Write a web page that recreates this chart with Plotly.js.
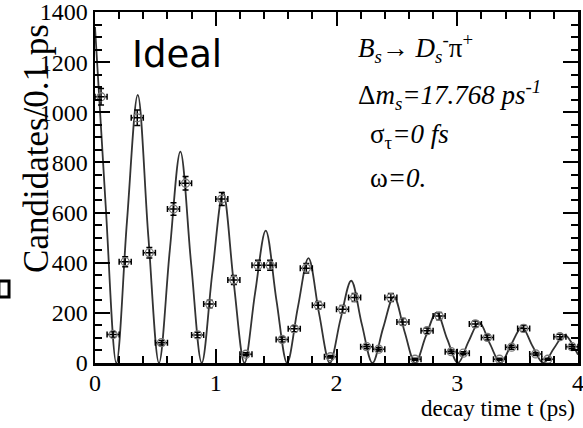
<!DOCTYPE html>
<html>
<head>
<meta charset="utf-8">
<script src="https://cdn.plot.ly/plotly-3.0.1.min.js"></script>
<style>html,body{margin:0;padding:0;background:#fff;}#wrap{position:relative;width:583px;height:428px;}#chart{width:583px;height:428px;}.ov{position:absolute;white-space:nowrap;color:#000;line-height:1;}</style>
</head>
<body>
<div id="wrap"><div id="chart"></div></div>
<script>
// Binned data (bin centres in ps, candidates per 0.1 ps)
const binT = [0.05,0.15,0.25,0.35,0.45,0.55,0.65,0.75,0.85,0.95,
              1.05,1.15,1.25,1.35,1.45,1.55,1.65,1.75,1.85,1.95,
              2.05,2.15,2.25,2.35,2.45,2.55,2.65,2.75,2.85,2.95,
              3.05,3.15,3.25,3.35,3.45,3.55,3.65,3.75,3.85,3.95];
const binN = [1062,114,404,978,440,81,614,717,112,235,
              654,331,35,390,390,94,137,378,230,25,
              214,261,65,55,261,164,15,129,187,45,
              39,156,102,15,63,138,36,15,105,65];
const binErr = [33,11,20,31,21,9,25,27,11,15,
                26,18,6,20,20,10,12,19,15,5,
                15,16,8,7,16,13,4,11,14,7,
                6,12,10,4,8,12,6,4,10,8];

// Fitted curve at peaks, half-heights and zeros
const curveT = [0,0.088,0.177,0.265,0.354,0.442,0.530,0.619,0.707,0.796,
                0.884,0.972,1.061,1.149,1.238,1.326,1.414,1.503,1.591,1.680,
                1.768,1.856,1.945,2.033,2.122,2.210,2.298,2.387,2.475,2.564,
                2.652,2.740,2.829,2.917,3.006,3.094,3.182,3.271,3.359,3.448,
                3.536,3.624,3.713,3.801,3.890,3.978,4.0];
const curveN = [1340,631,0,567,1069,503,0,447,843,397,
                0,361,680,320,0,280,528,249,0,222,
                418,197,0,174,328,154,0,141,265,125,
                0,107,201,95,0,86,162,76,0,75,
                142,67,0,59,112,53,33];

// Axis ticks: x labels 0..4 step 1, y labels 0..1400 step 200
const xTickStep = 1, xMinorStep = 0.2;
const yTickStep = 200, yMinorStep = 50;

const serif = 'Liberation Serif';
const CONFIG = {staticPlot: true};
const gd = document.getElementById('chart');

const labelDefs = [
  {text: 'Ideal', x: 0.072, y: 0.88, xanchor: 'left', family: 'DejaVu Sans', size: 37, angle: 0},
  {text: '<i>B<sub>s</sub></i>\u2192 <i>D<sub>s</sub></i><sup>-</sup>\u03c0<sup>+</sup>', x: 0.54, y: 0.897, xanchor: 'left', family: serif, size: 27, angle: 0},
  {text: '\u0394<i>m<sub>s</sub>=17.768 ps<sup>-1</sup></i>', x: 0.54, y: 0.7635, xanchor: 'left', family: serif, size: 27, angle: 0},
  {text: '\u03c3<sub>\u03c4</sub><i>=0 fs</i>', x: 0.566, y: 0.648, xanchor: 'left', family: serif, size: 27, angle: 0},
  {text: '\u03c9<i>=0.</i>', x: 0.566, y: 0.527, xanchor: 'left', family: serif, size: 27, angle: 0},
  {text: 'decay time t (ps)', x: 0.998, y: -0.131, xanchor: 'right', family: serif, size: 23, angle: 0},
  {text: 'Candidates/0.1 ps', x: -0.12, y: 0.61, xanchor: 'center', family: serif, size: 35, angle: -90}
];

function buildData() {
  return [
    {x: curveT, y: curveN, type: 'scatter', mode: 'lines',
     line: {color: '#333', width: 1.8, shape: 'spline', smoothing: 1}},
    {x: binT, y: binN, type: 'scatter', mode: 'markers',
     marker: {symbol: 'circle-open', size: 8, color: '#777', line: {width: 1.3}},
     error_x: {type: 'constant', value: 0.05, color: '#000', thickness: 1.5, width: 3},
     error_y: {type: 'data', array: binErr, color: '#000', thickness: 1.5, width: 3}}
  ];
}

function buildLayout(opts) {
  const L = {
    width: 583, height: 428,
    margin: {l: 95, r: 5, t: 12, b: 65, autoexpand: false},
    paper_bgcolor: '#fff', plot_bgcolor: '#fff',
    font: {family: serif, size: 24, color: '#000'},
    showlegend: false,
    xaxis: {range: [0, 4], tickmode: 'linear', tick0: 0, dtick: xTickStep,
            showline: true, linecolor: '#000', linewidth: 2.5, mirror: 'ticks',
            ticks: 'inside', tickcolor: '#000', tickwidth: 2, ticklen: 14,
            showgrid: false, zeroline: false, automargin: false,
            ticklabeloverflow: 'allow', ticklabelstandoff: -3,
            tickfont: {family: serif, size: 24, color: '#000'}},
    yaxis: {range: [0, 1400], tickmode: 'linear', tick0: 0, dtick: yTickStep,
            showline: true, linecolor: '#000', linewidth: 2.5, mirror: 'ticks',
            ticks: 'inside', tickcolor: '#000', tickwidth: 2, ticklen: 15,
            showgrid: false, zeroline: false, automargin: false,
            ticklabeloverflow: 'allow',
            tickfont: {family: serif, size: 24, color: '#000'}}
  };
  if (opts.minor) {
    L.xaxis.minor = {dtick: xMinorStep, tick0: 0, ticklen: 7, ticks: 'inside', tickcolor: '#000', tickwidth: 2, showgrid: false};
    L.yaxis.minor = {dtick: yMinorStep, tick0: 0, ticklen: 7, ticks: 'inside', tickcolor: '#000', tickwidth: 2, showgrid: false};
  }
  if (opts.annotations) {
    L.annotations = labelDefs.map(function (d) {
      return {text: d.text, xref: 'paper', yref: 'paper', x: d.x, y: d.y, xanchor: d.xanchor, yanchor: 'middle',
              textangle: d.angle, showarrow: false, font: {family: d.family, size: d.size, color: '#000'}};
    });
  }
  if (opts.shapes) {
    L.shapes = [{type: 'rect', xref: 'paper', yref: 'paper', x0: -0.199, x1: -0.178, y0: 0.188, y1: 0.2336,
                 line: {color: '#000', width: 3}, fillcolor: 'rgba(0,0,0,0)'}];
  }
  return L;
}

function addOverlayText() {
  const wrap = document.getElementById('wrap');
  if (wrap.querySelector('.ov')) return;
  labelDefs.forEach(function (d) {
    const el = document.createElement('div');
    el.className = 'ov';
    el.innerHTML = d.text;
    el.style.fontFamily = d.family;
    el.style.fontSize = d.size + 'px';
    el.style.left = (95 + d.x * 483) + 'px';
    el.style.top = (12 + (1 - d.y) * 351) + 'px';
    const tx = d.xanchor === 'left' ? '0' : (d.xanchor === 'right' ? '-100%' : '-50%');
    el.style.transform = 'translate(' + tx + ',-50%)' + (d.angle ? ' rotate(' + d.angle + 'deg)' : '');
    wrap.appendChild(el);
  });
}

function addOverlayBox() {
  const wrap = document.getElementById('wrap');
  if (wrap.querySelector('.ovbox')) return;
  const b = document.createElement('div');
  b.className = 'ovbox';
  b.style.cssText = 'position:absolute;left:-2px;top:281px;width:8px;height:13px;border:3px solid #000;';
  wrap.appendChild(b);
}

function labelsOk() {
  const labs = gd.querySelectorAll('.xtick text, .ytick text');
  if (!labs.length) return false;
  for (const l of labs) {
    if ((l.style.fontFamily || '').indexOf('Liberation') < 0) return false;
  }
  return true;
}

let level = 0;
const levels = [
  {minor: true, annotations: true, shapes: true},
  {minor: true, annotations: false, shapes: false},
  {minor: false, annotations: false, shapes: false}
];

function render() {
  const opts = levels[level];
  if (!opts.annotations) addOverlayText();
  if (!opts.shapes) addOverlayBox();
  Plotly.purge(gd);
  return Plotly.newPlot(gd, buildData(), buildLayout(opts), CONFIG);
}

function verify() {
  if (!labelsOk() && level < levels.length - 1) {
    level += 1;
    render().then(scheduleChecks, scheduleChecks);
  }
}

function scheduleChecks() {
  verify();
  setTimeout(verify, 60);
  setTimeout(verify, 250);
}

render().then(scheduleChecks, function () { level = 1; render().then(scheduleChecks); });
</script>
</body>
</html>
